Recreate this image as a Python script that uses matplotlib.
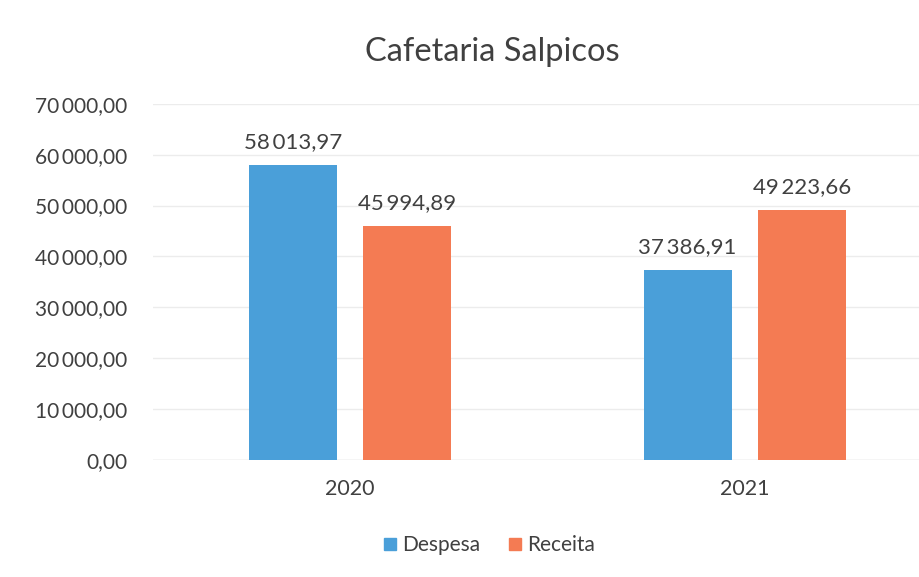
import numpy as np
import matplotlib.pyplot as plt
from matplotlib.patches import Patch

# Data
years = ['2020', '2021']
despesa = [58013.97, 37386.91]
receita = [45994.89, 49223.66]
series_names = ['Despesa', 'Receita']
yticks = [0, 10000, 20000, 30000, 40000, 50000, 60000, 70000]

def fmt(v):
    s = '{:,.2f}'.format(v)
    return s.replace(',', '\u2009').replace('.', ',')

plt.rcParams['font.family'] = ['Lato', 'DejaVu Sans']
text_color = '#404040'
c_desp = '#4A9FD9'
c_rec = '#F47B53'

fig = plt.figure(figsize=(9.2, 5.77), dpi=100)
ax = fig.add_axes([0.166, 0.203, 0.858, 0.617])

x = np.arange(len(years))
w = 0.223
off = 0.145
b1 = ax.bar(x - off, despesa, w, color=c_desp, zorder=3)
b2 = ax.bar(x + off, receita, w, color=c_rec, zorder=3)

for bars, vals in ((b1, despesa), (b2, receita)):
    for b, v in zip(bars, vals):
        ax.text(b.get_x() + b.get_width() / 2, v + 2500, fmt(v),
                ha='center', va='bottom', fontsize=16, color=text_color)

ax.set_xlim(-0.5, 1.5)
ax.set_ylim(0, 70000)
ax.set_yticks(yticks)
ax.set_yticklabels([fmt(v) for v in yticks])
ax.set_xticks(x)
ax.set_xticklabels(years)
ax.tick_params(axis='both', length=0, labelsize=15, colors=text_color)
ax.tick_params(axis='x', labelsize=15.5, pad=14)
ax.tick_params(axis='y', pad=18)
ax.grid(axis='y', color='#ECECEC', lw=1, zorder=0)
for s in ax.spines.values():
    s.set_visible(False)
ax.axhline(0, color='#E0E0E0', lw=1, zorder=2)

fig.text(0.535, 0.91, 'Cafetaria Salpicos', ha='center', va='center',
         fontsize=23.5, color=text_color)

handles = [Patch(color=c_desp), Patch(color=c_rec)]
fig.legend(handles, series_names, loc='center', bbox_to_anchor=(0.532, 0.055),
           ncol=2, frameon=False, fontsize=15, handlelength=0.55,
           handleheight=0.55, handletextpad=0.3, columnspacing=1.4,
           labelcolor=text_color)

fig.savefig('out.png', dpi=100, facecolor='white')
